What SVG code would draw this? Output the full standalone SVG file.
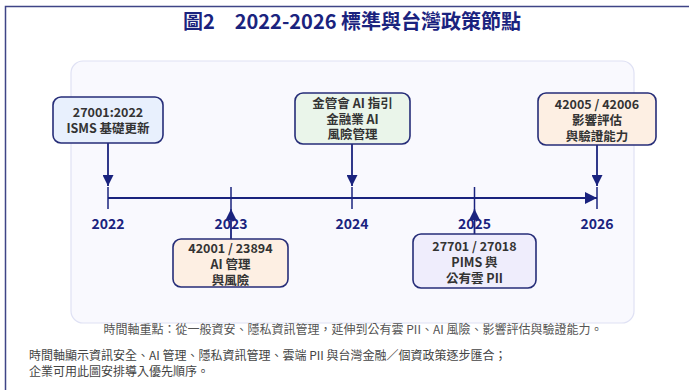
<svg xmlns="http://www.w3.org/2000/svg" width="689" height="390" viewBox="0 0 689 390">
<defs>
<marker id="arr" viewBox="0 0 10 10" refX="10" refY="5" markerUnits="userSpaceOnUse" markerWidth="13" markerHeight="11" orient="auto">
<path d="M0,0 L10,5 L0,10 z" fill="#1a237e"/>
</marker>
<marker id="arrBig" viewBox="0 0 10 10" refX="10" refY="5" markerUnits="userSpaceOnUse" markerWidth="19" markerHeight="12" orient="auto">
<path d="M0,0 L10,5 L0,10 z" fill="#1a237e"/>
</marker>
</defs>
<style>
text{font-family:"Noto Sans CJK TC","Noto Sans CJK SC","Noto Sans",sans-serif;}
.title{font-size:20px;font-weight:bold;fill:#1a237e;text-anchor:middle;}
.year{font-size:14px;font-weight:bold;fill:#1a237e;text-anchor:middle;}
.box{stroke:#262d78;stroke-width:1.6;}
.bt{font-size:12.5px;font-weight:bold;fill:#333;text-anchor:middle;}
.cap{font-size:12px;fill:#555;text-anchor:middle;}
.note{font-size:12px;fill:#444;}
.conn{stroke:#1a237e;stroke-width:1.8;fill:none;}
.tick{stroke:#1a237e;stroke-width:1.5;}
</style>
<rect x="0" y="0" width="689" height="390" fill="#ffffff"/>
<rect x="5.5" y="6.5" width="720" height="420" fill="#ffffff" stroke="#3f4486" stroke-width="1.5"/>
<text class="title" x="352" y="29">圖2　2022-2026 標準與台灣政策節點</text>
<rect x="71" y="61" width="563" height="262" rx="12" fill="#f9f9fe" stroke="#dfe1f4" stroke-width="1.2"/>

<g id="axis">
<line class="conn" x1="108" y1="198" x2="597" y2="198" stroke-width="2" marker-end="url(#arrBig)"/>
<line class="tick" x1="108" y1="187" x2="108" y2="209"/>
<line class="tick" x1="231" y1="187" x2="231" y2="209"/>
<line class="tick" x1="352" y1="187" x2="352" y2="209"/>
<line class="tick" x1="474.5" y1="187" x2="474.5" y2="209"/>
<line class="tick" x1="597" y1="187" x2="597" y2="209"/>
<text class="year" x="108" y="229">2022</text>
<text class="year" x="231" y="229">2023</text>
<text class="year" x="352" y="229">2024</text>
<text class="year" x="474.5" y="229">2025</text>
<text class="year" x="597" y="229">2026</text>
</g>

<g id="connectors">
<line class="conn" x1="108" y1="143" x2="108" y2="186" marker-end="url(#arr)"/>
<line class="conn" x1="352" y1="144" x2="352" y2="186" marker-end="url(#arr)"/>
<line class="conn" x1="597" y1="145" x2="597" y2="186" marker-end="url(#arr)"/>
<line class="conn" x1="231" y1="239" x2="231" y2="209" marker-end="url(#arr)"/>
<line class="conn" x1="474.5" y1="234" x2="474.5" y2="209" marker-end="url(#arr)"/>
</g>

<g id="node-2022">
<rect class="box" x="53" y="97" width="110" height="46" rx="8" fill="#e8f0fd"/>
<text class="bt" x="108" y="117">27001:2022</text>
<text class="bt" x="108" y="133">ISMS 基礎更新</text>
</g>
<g id="node-2024">
<rect class="box" x="295" y="93" width="115" height="51" rx="8" fill="#eaf5ea"/>
<text class="bt" x="352.5" y="108">金管會 AI 指引</text>
<text class="bt" x="352.5" y="123.5">金融業 AI</text>
<text class="bt" x="352.5" y="139">風險管理</text>
</g>
<g id="node-2026">
<rect class="box" x="538" y="93" width="118" height="52" rx="8" fill="#fdefe3"/>
<text class="bt" x="597" y="109">42005 / 42006</text>
<text class="bt" x="597" y="125">影響評估</text>
<text class="bt" x="597" y="141">與驗證能力</text>
</g>
<g id="node-2023">
<rect class="box" x="173" y="239" width="115" height="48" rx="8" fill="#fdefe3"/>
<text class="bt" x="230.5" y="253">42001 / 23894</text>
<text class="bt" x="230.5" y="269">AI 管理</text>
<text class="bt" x="230.5" y="285">與風險</text>
</g>
<g id="node-2025">
<rect class="box" x="413" y="234" width="123" height="54" rx="8" fill="#efedfc"/>
<text class="bt" x="474.5" y="251">27701 / 27018</text>
<text class="bt" x="474.5" y="267">PIMS 與</text>
<text class="bt" x="474.5" y="283">公有雲 PII</text>
</g>

<text class="cap" x="353" y="334">時間軸重點：從一般資安、隱私資訊管理，延伸到公有雲 PII、AI 風險、影響評估與驗證能力。</text>
<text class="note" x="29" y="360">時間軸顯示資訊安全、AI 管理、隱私資訊管理、雲端 PII 與台灣金融／個資政策逐步匯合；</text>
<text class="note" x="29" y="376">企業可用此圖安排導入優先順序。</text>
</svg>
